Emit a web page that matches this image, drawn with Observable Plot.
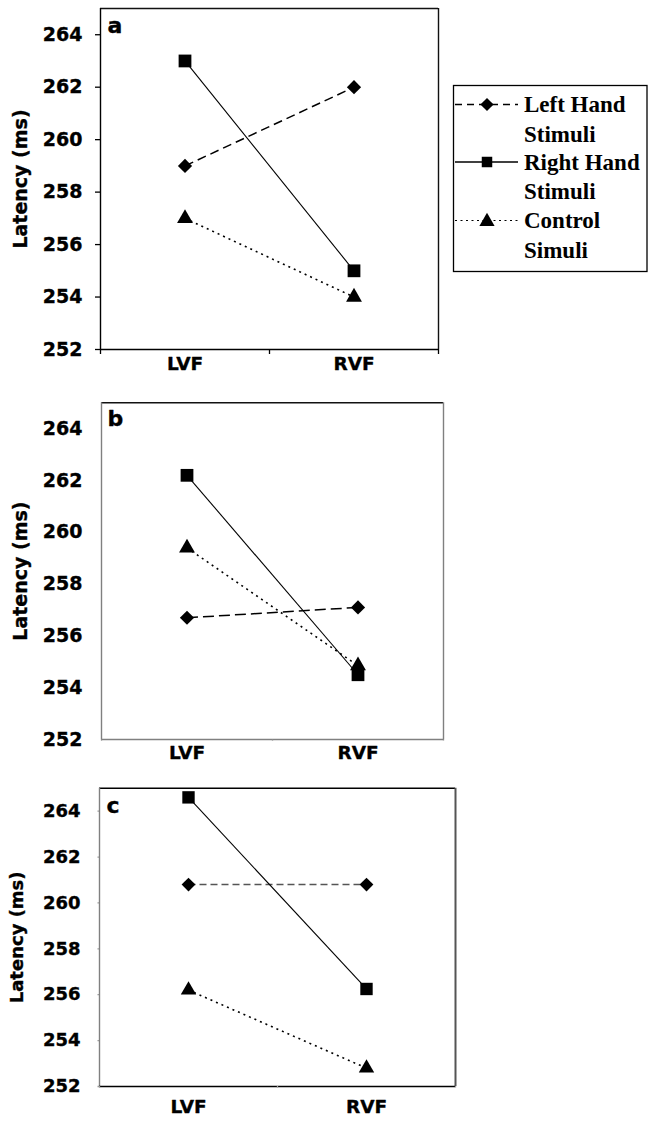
<!DOCTYPE html>
<html>
<head>
<meta charset="utf-8">
<script src="https://cdn.jsdelivr.net/npm/d3@7"></script>
<script src="https://cdn.jsdelivr.net/npm/@observablehq/plot@0.6"></script>
<style>
  html, body { margin: 0; padding: 0; background: #fff; }
  #wrap { position: relative; width: 648px; height: 1124px; background: #fff; }
  #wrap > div { position: absolute; left: 0; }
  #wrap svg { overflow: visible; }
</style>
</head>
<body>
<div id="wrap">
  <div id="pa" style="top:0px"></div>
  <div id="pb" style="top:385px"></div>
  <div id="pc" style="top:770px"></div>
  <div id="legend" style="top:0px"></div>
</div>
<script>
// ---- data ----
const categories = ["LVF", "RVF"];
const seriesNames = ["Left Hand Stimuli", "Right Hand Stimuli", "Control Simuli"];
const legendLines = [["Left Hand", "Stimuli"], ["Right Hand", "Stimuli"], ["Control", "Simuli"]];
const yTicks = [252, 254, 256, 258, 260, 262, 264];
const yDomain = [252, 265];
const yTitle = "Latency (ms)";

const panelALeftHand = [259, 262];
const panelARightHand = [263, 255];
const panelAControl = [257, 254];

const panelBLeftHand = [256.7, 257.1];
const panelBRightHand = [262.2, 254.5];
const panelBControl = [259.4, 254.85];

const panelCLeftHand = [260.8, 260.8];
const panelCRightHand = [264.6, 256.25];
const panelCControl = [256.2, 252.8];

// ---- styles ----
const seriesStyle = [
  {symbol: "diamond2", r: 6.4, width: 1.5},
  {symbol: "square", r: 7.2, width: 1.1, dash: null},
  {symbol: "triangle", r: 5.9, width: 1.6, dash: "2,4"}
];

function makePanel(cfg) {
  const values = cfg.values;
  const data = seriesNames.flatMap((s, si) =>
    categories.map((c, ci) => ({series: s, si, cat: c, xpos: categories.indexOf(c) + 0.5, value: values[si][ci]})));
  const marks = [];
  const heavy = {stroke: "#000", strokeWidth: 0.35, paintOrder: "stroke"};
  // frame
  marks.push(Plot.ruleY([yDomain[1]], {stroke: cfg.frame.top, strokeWidth: 1.4}));
  marks.push(Plot.ruleX([2], {stroke: cfg.frame.right, strokeWidth: cfg.frame.rightW || 1.4}));
  marks.push(Plot.ruleX([0], {stroke: cfg.frame.left, strokeWidth: 1.4}));
  marks.push(Plot.ruleY([yDomain[0]], {stroke: cfg.frame.bottom, strokeWidth: 1.4}));
  // axes
  marks.push(Plot.axisY({ticks: yTicks, tickSize: cfg.yTickSize, tickPadding: cfg.yTickPadding,
    fontSize: cfg.yFont, fontWeight: "bold", fill: "#000", stroke: cfg.tickColor, strokeWidth: 1.3, label: null}));
  marks.push(Plot.axisX({ticks: [0, 1, 2], tickFormat: () => "", tickSize: cfg.xTickSize,
    stroke: cfg.tickColor, strokeWidth: 1.3, label: null}));
  // x labels
  marks.push(Plot.text(categories, {x: d => categories.indexOf(d) + 0.5, text: d => d, frameAnchor: "bottom",
    dy: cfg.xLabelDy, fontSize: cfg.xFont, fontWeight: "bold", fill: "#000", ...heavy}));
  // y title
  marks.push(Plot.text([yTitle], {frameAnchor: "left", textAnchor: "middle", rotate: -90, dx: cfg.titleDx, text: d => d,
    fontSize: cfg.titleFont, fontWeight: "bold", fill: "#000", ...heavy}));
  // panel letter
  marks.push(Plot.text([cfg.letter], {frameAnchor: "top-left", dx: cfg.letterDx, dy: cfg.letterDy,
    lineAnchor: "top", textAnchor: "start", text: d => d, fontSize: 22, fontWeight: "bold", fill: "#000", ...heavy}));
  // lines
  seriesNames.forEach((s, si) => {
    const st = seriesStyle[si];
    const dash = si === 0 ? cfg.dash0 : st.dash;
    marks.push(Plot.line(data.filter(d => d.si === si), {x: "xpos", y: "value",
      stroke: si === 0 ? cfg.dashColor : "#000", strokeWidth: st.width,
      strokeDasharray: dash || undefined, strokeLinecap: "butt"}));
  });
  seriesNames.forEach((s, si) => {
    const st = seriesStyle[si];
    marks.push(Plot.dot(data.filter(d => d.si === si), {x: "xpos", y: "value",
      symbol: st.symbol, r: st.r * (cfg.markScale || 1), fill: "#000", stroke: "none"}));
  });
  const svg = Plot.plot({
    width: 648,
    height: cfg.height,
    marginTop: cfg.mt, marginBottom: cfg.mb, marginLeft: cfg.ml, marginRight: cfg.mr,
    x: {type: "linear", domain: [0, 2]},
    y: {domain: yDomain},
    style: {fontFamily: "DejaVu Sans, Verdana, sans-serif", background: "transparent", color: "#000"},
    marks
  });
  // make tick labels a little heavier, like the reference
  d3.select(svg).selectAll("g[aria-label='y-axis tick label'] text")
    .attr("stroke", "#000").attr("stroke-width", 0.35).attr("paint-order", "stroke");
  return svg;
}

document.getElementById("pa").appendChild(makePanel({
  values: [panelALeftHand, panelARightHand, panelAControl], letter: "a",
  height: 385, mt: 8, mb: 36, ml: 100, mr: 210,
  frame: {top: "#111", right: "#111", left: "#000", bottom: "#000"},
  yTickSize: 5, yTickPadding: 13, xTickSize: 5, tickColor: "#000",
  yFont: 19, xFont: 18.5, xLabelDy: 20, titleDx: -80, titleFont: 19,
  letterDx: 7, letterDy: 8.5, dash0: "9,5", dashColor: "#000"
}));

document.getElementById("pb").appendChild(makePanel({
  values: [panelBLeftHand, panelBRightHand, panelBControl], letter: "b",
  height: 385, mt: 17.3, mb: 31, ml: 101, mr: 205,
  frame: {top: "#111", right: "#808080", left: "#808080", bottom: "#808080"},
  yTickSize: 0, yTickPadding: 19, xTickSize: 1.5, tickColor: "#888",
  yFont: 19, xFont: 18.5, xLabelDy: 19.5, titleDx: -81, titleFont: 19,
  letterDx: 6, letterDy: 8, dash0: "11,5", dashColor: "#000"
}));

document.getElementById("pc").appendChild(makePanel({
  values: [panelCLeftHand, panelCRightHand, panelCControl], letter: "c",
  height: 354, mt: 17.7, mb: 38, ml: 99, mr: 193,
  frame: {top: "#000", right: "#555", left: "#808080", bottom: "#000", rightW: 2},
  yTickSize: 1.5, yTickPadding: 17.5, xTickSize: 1.5, tickColor: "#999",
  yFont: 18, xFont: 18.5, xLabelDy: 26, titleDx: -82, titleFont: 18,
  letterDx: 7, letterDy: 9.5, dash0: "7,4", dashColor: "#555", markScale: 0.97
}));

// ---- legend ----
(function () {
  const svg = d3.create("svg").attr("width", 648).attr("height", 300)
    .style("position", "absolute").style("left", "0px").style("top", "0px").style("overflow", "visible");
  svg.append("rect").attr("x", 453.5).attr("y", 85.5).attr("width", 193.5).attr("height", 186)
    .attr("fill", "#fff").attr("stroke", "#000").attr("stroke-width", 1.3);
  const rowBase = [112, 169.5, 228];
  const symY = [104.5, 162, 220.5];
  const dashes = ["7,5", null, "2,3.5"];
  const syms = [d3.symbolDiamond2, d3.symbolSquare, d3.symbolTriangle];
  const sizes = [110, 110, 100];
  seriesNames.forEach((s, i) => {
    const ln = svg.append("line").attr("x1", 455).attr("x2", 518).attr("y1", symY[i]).attr("y2", symY[i])
      .attr("stroke", "#000").attr("stroke-width", i === 2 ? 1.2 : 1.4);
    if (dashes[i]) ln.attr("stroke-dasharray", dashes[i]);
    svg.append("path").attr("d", d3.symbol(syms[i], sizes[i])())
      .attr("transform", `translate(487,${symY[i] + (i === 2 ? 1 : 0)})`).attr("fill", "#000");
    legendLines[i].forEach((t, j) => {
      svg.append("text").attr("x", 524).attr("y", rowBase[i] + j * 29.5)
        .attr("font-family", "Liberation Serif, Times New Roman, serif").attr("font-weight", "bold")
        .attr("font-size", 23).attr("fill", "#000").text(t);
    });
  });
  document.getElementById("legend").appendChild(svg.node());
})();
</script>
</body>
</html>
